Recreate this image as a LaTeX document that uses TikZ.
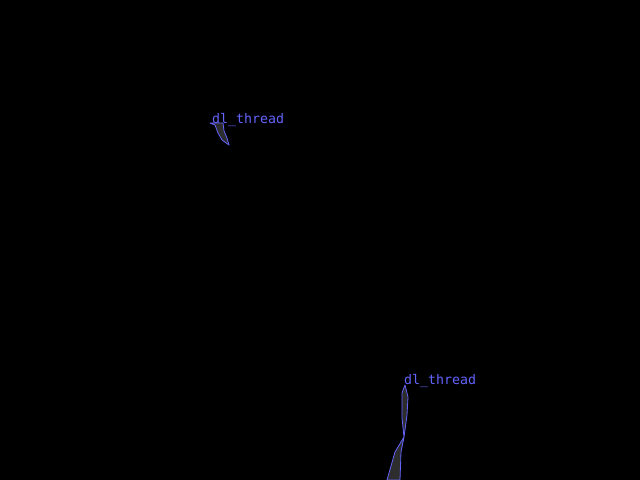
\documentclass[tikz,border=0pt]{standalone}
\usepackage{fontspec}
\setmonofont{DejaVu Sans Mono}
\usetikzlibrary{positioning}
\definecolor{dlBlue}{RGB}{100,100,255}
\definecolor{dlFill}{RGB}{45,45,45}

\begin{document}
\begin{tikzpicture}[x=1bp,y=-1bp,
    threadlabel/.style={anchor=base west, inner sep=0pt, text=dlBlue, font=\ttfamily\fontsize{13.3}{14}\selectfont},
    blob/.style={draw=dlBlue, fill=dlFill, line width=0.8bp, line join=round}]
  % black background, fixes the page size
  \fill[black] (0,0) rectangle (640,480);
  \useasboundingbox (0,0) rectangle (640,480);

  % upper thread
  \node[threadlabel] (lblA) at (212,123.5) {dl\_thread};
  \draw[blob] (210,123) -- (223,123) -- (224,131) -- (227,138) -- (229,145)
    -- (222,140) -- (218,133) -- (215,125) -- cycle;

  % lower thread
  \node[threadlabel] (lblB) at (404,384.5) {dl\_thread};
  \draw[blob] (405,385) -- (408,397) -- (407,415) -- (404,437)
    -- (401,452) -- (400,480) -- (387,480) -- (395,452) -- (404,437)
    -- (402,418) -- (402,393) -- cycle;
\end{tikzpicture}
\end{document}
